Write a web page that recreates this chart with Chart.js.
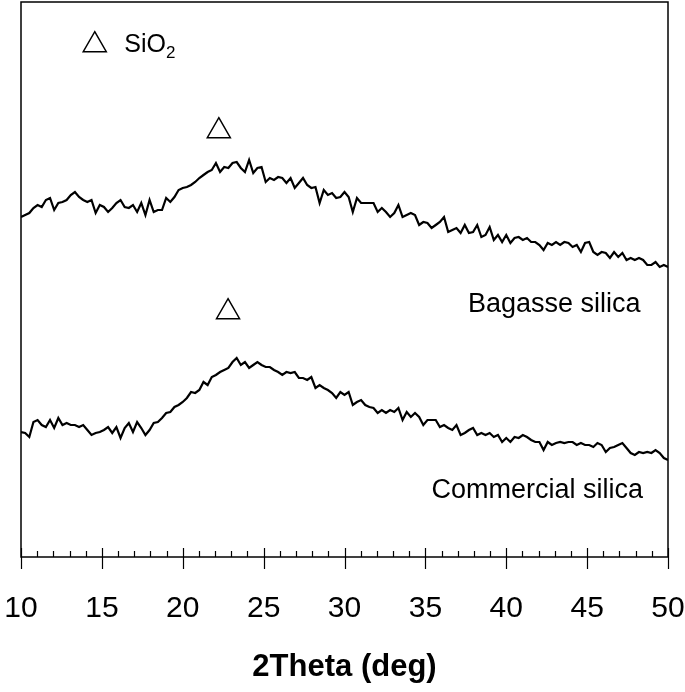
<!DOCTYPE html>
<html>
<head>
<meta charset="utf-8">
<script src="https://cdn.jsdelivr.net/npm/chart.js@4/dist/chart.umd.min.js"></script>
<style>
  html, body { margin: 0; padding: 0; background: #fff; }
  #wrap { width: 685px; height: 692px; }
</style>
</head>
<body>
<div id="wrap"><canvas id="xrd"></canvas></div>
<script>
// barrido 2theta: de 10 a 50 grados, 157 puntos leidos
const scanStart = 10
const scanEnd = 50

// intensidad (u.a.) de la silice de bagazo
const bagasse = [
  340, 342, 344, 349, 352, 350, 357, 359, 347, 354, 355, 357, 362, 365, 360, 357,
  355, 357, 344, 352, 350, 345, 349, 354, 357, 350, 349, 352, 345, 354, 342, 357,
  345, 347, 347, 359, 355, 360, 367, 369, 370, 372, 375, 379, 382, 385, 387, 394,
  385, 390, 389, 394, 395, 389, 385, 397, 384, 389, 390, 375, 379, 377, 380, 379,
  374, 379, 369, 374, 379, 372, 369, 370, 354, 367, 362, 364, 359, 360, 365, 360,
  345, 359, 354, 354, 354, 354, 345, 349, 345, 340, 344, 352, 340, 342, 344, 342,
  332, 335, 334, 329, 332, 335, 340, 325, 327, 329, 324, 332, 324, 325, 332, 320,
  322, 330, 317, 322, 315, 322, 314, 319, 320, 317, 319, 315, 315, 312, 307, 314,
  312, 315, 312, 315, 314, 310, 312, 305, 314, 315, 305, 302, 305, 304, 299, 305,
  300, 304, 297, 299, 297, 299, 297, 292, 292, 295, 290, 292, 290
]

// intensidad (u.a.) de la silice comercial
const commercial = [
  125, 124, 120, 135, 137, 132, 130, 137, 129, 139, 132, 134, 132, 132, 130, 132,
  127, 122, 124, 125, 127, 130, 124, 130, 119, 129, 134, 125, 135, 129, 122, 127,
  134, 135, 139, 144, 145, 150, 152, 155, 159, 165, 164, 167, 175, 172, 180, 182,
  185, 187, 189, 195, 199, 192, 195, 189, 192, 195, 192, 190, 190, 187, 185, 182,
  185, 184, 185, 179, 179, 177, 180, 169, 172, 169, 167, 164, 159, 165, 162, 165,
  152, 155, 157, 152, 150, 149, 144, 147, 144, 147, 145, 149, 137, 145, 140, 144,
  140, 132, 137, 137, 137, 130, 132, 129, 127, 132, 122, 124, 127, 129, 122, 124,
  122, 124, 120, 122, 115, 119, 115, 120, 119, 122, 120, 117, 115, 115, 107, 115,
  112, 114, 115, 114, 115, 115, 112, 114, 112, 112, 110, 114, 112, 105, 109, 110,
  112, 114, 109, 104, 102, 105, 104, 105, 104, 107, 104, 99, 97
]

// marcas del pico de SiO2 (triangulos) y la leyenda
const peakMarks = [
  { x: 14.56, y: 512 },
  { x: 22.23, y: 426 },
  { x: 22.80, y: 245 }
]

// textos dentro del grafico, en coordenadas de datos
const notes = [
  { text: 'Bagasse silica', x: 42.97, y: 245, align: 'center', size: 27 },
  { text: 'Commercial silica', x: 41.92, y: 59, align: 'center', size: 27 }
]

const FONT = '"Liberation Sans", Arial, sans-serif'

function toPoints(values) {
  let step = (scanEnd - scanStart) / (values.length - 1), pts = []
  for (let i = 0; i < values.length; i++) {
    pts.push({ x: scanStart + i * step, y: values[i] })
  }
  return pts
}

// marco, marcas del eje x y textos
const framePlugin = {
  id: 'frame',
  afterDraw(chart) {
    const ctx = chart.ctx, a = chart.chartArea, sx = chart.scales.x, sy = chart.scales.y
    ctx.save()
    ctx.strokeStyle = '#000'
    ctx.lineWidth = 1.5
    ctx.strokeRect(a.left, a.top, a.right - a.left, a.bottom - a.top)
    ctx.lineWidth = 1.2
    for (let v = scanStart; v <= scanEnd; v++) {
      const px = Math.round(sx.getPixelForValue(v)) + 0.5
      ctx.beginPath()
      if (v % 5 === 0) {
        ctx.moveTo(px, a.bottom - 9)
        ctx.lineTo(px, a.bottom + 12)
      } else {
        ctx.moveTo(px, a.bottom - 6)
        ctx.lineTo(px, a.bottom)
      }
      ctx.stroke()
    }
    ctx.fillStyle = '#000'
    ctx.textBaseline = 'alphabetic'
    notes.forEach(function (n) {
      ctx.font = n.size + 'px ' + FONT
      ctx.textAlign = n.align
      ctx.fillText(n.text, sx.getPixelForValue(n.x), sy.getPixelForValue(n.y))
    })
    // SiO2 con subindice
    const lx = sx.getPixelForValue(16.39), ly = sy.getPixelForValue(505)
    ctx.textAlign = 'left'
    ctx.font = '25px ' + FONT
    ctx.fillText('SiO', lx, ly)
    const w = ctx.measureText('SiO').width
    ctx.font = '17px ' + FONT
    ctx.fillText('2', lx + w, ly + 6)
    ctx.restore()
  }
}

document.addEventListener('DOMContentLoaded', function () {
  new Chart(document.getElementById('xrd'), {
    type: 'scatter',
    data: {
      datasets: [
        {
          label: 'Bagasse silica',
          data: toPoints(bagasse),
          showLine: true,
          borderColor: '#000',
          borderWidth: 2.2,
          pointRadius: 0,
          tension: 0
        },
        {
          label: 'Commercial silica',
          data: toPoints(commercial),
          showLine: true,
          borderColor: '#000',
          borderWidth: 2.2,
          pointRadius: 0,
          tension: 0
        },
        {
          label: 'SiO2',
          data: peakMarks,
          showLine: false,
          pointStyle: 'triangle',
          pointRadius: 13.3,
          pointBackgroundColor: '#fff',
          pointBorderColor: '#000',
          pointBorderWidth: 1.5
        }
      ]
    },
    options: {
      responsive: true,
      maintainAspectRatio: false,
      animation: false,
      events: [],
      layout: { autoPadding: false, padding: { left: 21, right: 17, top: 2, bottom: 6 } },
      plugins: { legend: { display: false }, tooltip: { enabled: false } },
      scales: {
        x: {
          type: 'linear',
          min: scanStart,
          max: scanEnd,
          grid: { display: false },
          border: { display: false },
          ticks: {
            stepSize: 1,
            autoSkip: false,
            maxRotation: 0,
            padding: 26,
            color: '#000',
            font: { family: FONT, size: 30 },
            callback: function (v) { return v % 5 === 0 ? v : '' }
          },
          title: {
            display: true,
            text: '2Theta (deg)',
            color: '#000',
            font: { family: FONT, size: 31, weight: 'bold' },
            padding: { top: 20, bottom: 0 }
          },
          afterFit: function (scale) {
            scale.paddingLeft = 0
            scale.paddingRight = 0
            scale.height = 129
          }
        },
        y: {
          display: false,
          min: 0,
          max: 555
        }
      }
    },
    plugins: [framePlugin]
  })
})
</script>
</body>
</html>
